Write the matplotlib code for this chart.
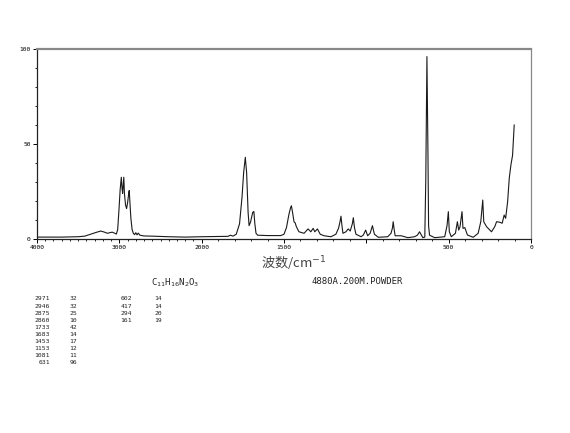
import numpy as np
import matplotlib
matplotlib.use("Agg")
import matplotlib.pyplot as plt
from matplotlib.ticker import FixedLocator, MultipleLocator

plt.rcParams['font.family'] = ['DejaVu Sans Mono', 'Noto Sans CJK SC']

# spectrum (wavenumber cm-1, intensity)
wavenumber = [4000, 3700, 3500, 3420, 3350, 3280, 3225, 3180, 3145, 3110, 3085, 3055, 3036,
              3020, 3005, 2990, 2976, 2968, 2960, 2952, 2946, 2938, 2925, 2912, 2900, 2886,
              2880, 2872, 2860, 2845, 2830, 2815, 2800, 2785, 2770, 2750, 2700, 2600, 2400,
              2200, 2000, 1900, 1840, 1825, 1810, 1790, 1770, 1755, 1745, 1735, 1727, 1718,
              1712, 1703, 1690, 1683, 1677, 1670, 1660, 1600, 1520, 1500, 1485, 1470, 1460,
              1455, 1448, 1439, 1432, 1425, 1409, 1378, 1354, 1337, 1323, 1313, 1297, 1280,
              1256, 1215, 1185, 1169, 1160, 1154, 1148, 1142, 1124, 1110, 1098, 1085, 1079,
              1072, 1063, 1032, 1018, 1004, 992, 977, 963, 951, 927, 870, 850, 841, 837, 831,
              825, 788, 748, 707, 690, 677, 657, 645, 639, 632, 626, 622, 616, 585, 524, 510,
              502, 496, 484, 459, 447, 439, 431, 419, 413, 402, 386, 351, 321, 305, 293, 287,
              270, 240, 220, 209, 189, 175, 163, 154, 142, 132, 122, 112, 102]
intensity = [1.0, 1.0, 1.2, 1.5, 2.5, 3.5, 4.2, 3.6, 3.0, 3.4, 3.6, 3.0, 2.6,
             5, 15, 26, 32.5, 27, 24, 29, 32.5, 24, 18, 16, 19, 24,
             25.5, 20, 11, 5, 3, 2.3, 3.3, 2.2, 3.1, 2.0, 1.6, 1.5, 1.2,
             1.0, 1.2, 1.3, 1.4, 2.0, 1.5, 2.5, 8, 22, 35, 43, 35, 14,
             7, 9, 14, 14.5, 8, 3, 2, 1.8, 1.8, 2.5, 6, 13, 16.5,
             17.5, 14, 9, 8.5, 6.5, 3.8, 3, 5.3, 3.8, 5.6, 3.8, 5.3, 2.5,
             1.7, 1.2, 2.5, 5.6, 9, 12, 7, 3, 3.8, 5.3, 4.2, 8, 11.2,
             6, 2.5, 1.2, 2.1, 4.7, 1.7, 3, 7, 2.5, 0.9, 1.2, 3, 6, 9.1, 5,
             1.7, 1.7, 0.7, 1.2, 2, 3.8, 0.7, 1, 31, 96, 47, 7, 2, 0.7, 1.2, 7,
             14.4, 3.8, 1.2, 3, 9.1, 4.7, 6.5, 14.4, 5.6, 6, 2.1, 0.9, 3, 9.1, 20.5, 9.1,
             6.5, 3.8, 6.5, 9.1, 8.8, 8.3, 12.6, 10.9, 19.6, 32, 39, 44, 60]

# peak table printed under the chart
peaks_left = ["2971", "2946", "2875", "2860", "1733", "1683", "1453", "1153", "1081", "631"]
heights_left = ["32", "32", "25", "10", "42", "14", "17", "12", "11", "96"]
peaks_right = ["602", "417", "294", "161"]
heights_right = ["14", "14", "20", "19"]

x_major = [4000, 3000, 2000, 1500, 1000, 500, 0]
x_labels = ["4000", "3000", "2000", "1500", "", "500", "0"]


def fwd(x):
    x = np.asarray(x, dtype=float)
    return np.where(x > 2000, 2000 + (x - 2000) / 2, x)


def inv(u):
    u = np.asarray(u, dtype=float)
    return np.where(u > 2000, 2000 + (u - 2000) * 2, u)


fig = plt.figure(figsize=(5.7, 4.33), dpi=100)
ax = fig.add_axes([37 / 570, 1 - 239 / 433, 494 / 570, 190 / 433])
ax.set_xscale('function', functions=(fwd, inv))
ax.plot(wavenumber, intensity, color='#1a1a1a', lw=0.8)
ax.set_xlim(4000, 0)
ax.set_ylim(0, 100)

ax.xaxis.set_major_locator(FixedLocator(x_major))
ax.set_xticklabels(x_labels)
ax.xaxis.set_minor_locator(FixedLocator(list(range(0, 4001, 100))))
ax.set_yticks([0, 50, 100])
ax.yaxis.set_minor_locator(MultipleLocator(10))
ax.tick_params(which='major', length=3, width=0.7, labelsize=4.5, pad=1.5)
ax.tick_params(which='minor', length=1.5, width=0.6)

for side in ['left', 'bottom']:
    ax.spines[side].set_color('#222222')
    ax.spines[side].set_linewidth(0.9)
ax.spines['top'].set_color('#888888')
ax.spines['top'].set_linewidth(1.6)
ax.spines['right'].set_color('#888888')
ax.spines['right'].set_linewidth(0.9)

fig.text(294 / 570, 1 - 264 / 433, "波数/cm$^{-1}$", ha='center', va='center',
         fontsize=9.5, family=['Noto Sans CJK SC', 'DejaVu Sans'], color='#444444')
fig.text(175 / 570, 1 - 283 / 433, r"C$_{11}$H$_{16}$N$_2$O$_3$", ha='center', va='center',
         fontsize=6.5, color='#222222')
fig.text(312 / 570, 1 - 282 / 433, "4880A.200M.POWDER", ha='left', va='center',
         fontsize=6.5, color='#222222')

row0, dy = 299, 7.1
for i, (p, h) in enumerate(zip(peaks_left, heights_left)):
    y = 1 - (row0 + i * dy) / 433
    fig.text(50 / 570, y, p, ha='right', va='center', fontsize=4.6, color='#222222')
    fig.text(77 / 570, y, h, ha='right', va='center', fontsize=4.6, color='#222222')
for i, (p, h) in enumerate(zip(peaks_right, heights_right)):
    y = 1 - (row0 + i * dy) / 433
    fig.text(132 / 570, y, p, ha='right', va='center', fontsize=4.6, color='#222222')
    fig.text(162 / 570, y, h, ha='right', va='center', fontsize=4.6, color='#222222')

fig.savefig("out.png", dpi=100)
